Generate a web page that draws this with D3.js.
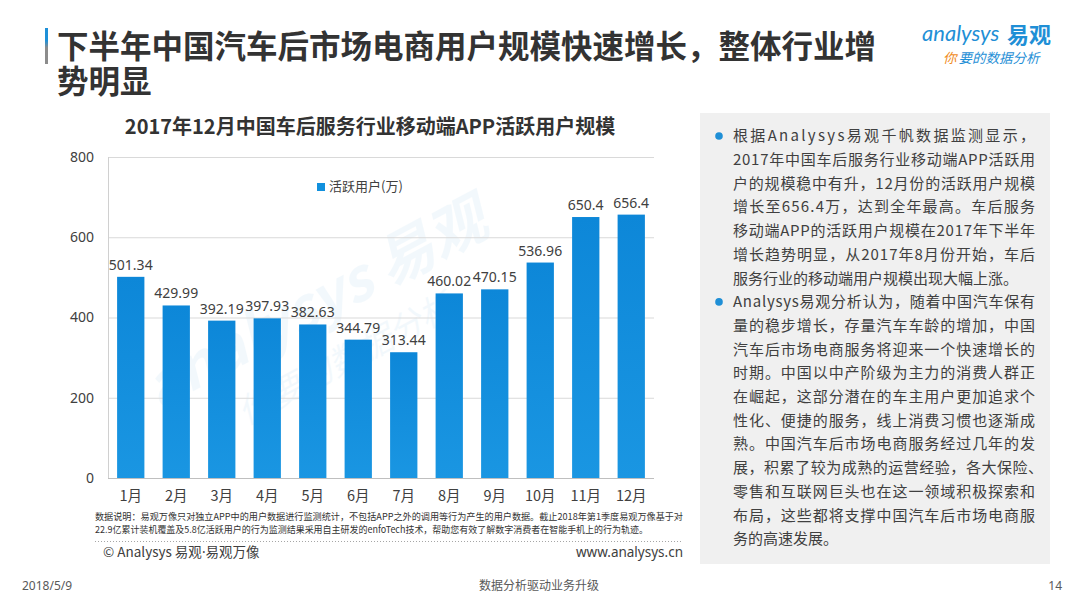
<!DOCTYPE html>
<html><head><meta charset="utf-8">
<script src="https://cdn.jsdelivr.net/npm/d3@7"></script>
<style>
html,body{margin:0;padding:0;background:#fff;}
svg{display:block;font-family:"Noto Sans","Noto Sans CJK SC",sans-serif;}
</style></head>
<body>
<svg id="c" width="1080" height="606"></svg>
<script>
const months = ["1月","2月","3月","4月","5月","6月","7月","8月","9月","10月","11月","12月"];
const activeUsers = [501.34,429.99,392.19,397.93,382.63,344.79,313.44,460.02,470.15,536.96,650.4,656.4];
const yTicks = [0,200,400,600,800];
const seriesName = "活跃用户(万)";
const titleLines = ["下半年中国汽车后市场电商用户规模快速增长，整体行业增","势明显"];
const chartTitle = "2017年12月中国车后服务行业移动端APP活跃用户规模";
const noteLines = [
 "数据说明：易观万像只对独立APP中的用户数据进行监测统计，不包括APP之外的调用等行为产生的用户数据。截止2018年第1季度易观万像基于对",
 "22.9亿累计装机覆盖及5.8亿活跃用户的行为监测结果采用自主研发的enfoTech技术，帮助您有效了解数字消费者在智能手机上的行为轨迹。"
];
const panelParas = [
 ["根据Analysys易观千帆数据监测显示，","2017年中国车后服务行业移动端APP活跃用","户的规模稳中有升，12月份的活跃用户规模","增长至656.4万，达到全年最高。车后服务","移动端APP的活跃用户规模在2017年下半年","增长趋势明显，从2017年8月份开始，车后","服务行业的移动端用户规模出现大幅上涨。"],
 ["Analysys易观分析认为，随着中国汽车保有","量的稳步增长，存量汽车车龄的增加，中国","汽车后市场电商服务将迎来一个快速增长的","时期。中国以中产阶级为主力的消费人群正","在崛起，这部分潜在的车主用户更加追求个","性化、便捷的服务，线上消费习惯也逐渐成","熟。中国汽车后市场电商服务经过几年的发","展，积累了较为成熟的运营经验，各大保险、","零售和互联网巨头也在这一领域积极探索和","布局，这些都将支撑中国汽车后市场电商服","务的高速发展。"]
];

const svg = d3.select("#c");
const CJK = '"Noto Sans CJK SC","Noto Sans",sans-serif';

// accent bar
const defs = svg.append("defs");
const ag = defs.append("linearGradient").attr("id","acc").attr("x1",0).attr("y1",0).attr("x2",0).attr("y2",1);
ag.append("stop").attr("offset","0%").attr("stop-color","#1e90d8");
ag.append("stop").attr("offset","35%").attr("stop-color","#1e90d8");
ag.append("stop").attr("offset","55%").attr("stop-color","#8c8c8c");
ag.append("stop").attr("offset","100%").attr("stop-color","#8c8c8c");
svg.append("rect").attr("x",45).attr("y",28).attr("width",3).attr("height",36).attr("fill","url(#acc)");

const tt = svg.append("text").style("font-family",CJK).style("font-weight","bold").style("font-size","31.5px").attr("fill","#333");
tt.selectAll("tspan").data(titleLines).join("tspan")
  .attr("x",57).attr("y",(d,i)=>58+i*35).text(d=>d);

// logo
const logo = svg.append("g");
logo.append("text").attr("x",922).attr("y",41).style("font-family","Lato, sans-serif").style("font-style","italic")
  .style("font-size","22px").attr("fill","#1f8fd6").text("analysys");
logo.append("text").attr("x",1007).attr("y",43).style("font-family",CJK).style("font-weight","bold")
  .style("font-size","22px").attr("fill","#1f8fd6").text("易观");
const tag = logo.append("text").attr("x",943).attr("y",63).style("font-family",CJK).style("font-style","italic").style("font-size","13.5px");
tag.append("tspan").attr("fill","#f08c1e").text("你");
tag.append("tspan").attr("fill","#1f8fd6").attr("dx",2).text("要的数据分析");

// chart title
svg.append("text").attr("x",370).attr("y",134).attr("text-anchor","middle")
  .style("font-family",CJK).style("font-weight","bold").style("font-size","20px").attr("fill","#333").text(chartTitle);

// scales
const x = d3.scaleBand().domain(months).range([108,654]).paddingInner(0.4).paddingOuter(0.2);
const y = d3.scaleLinear().domain([0,800]).range([478,157]);

// watermark
const wm = svg.append("g").attr("transform","translate(330,330) rotate(-28)").attr("opacity",0.05);
wm.append("text").attr("text-anchor","middle").attr("y",-10).style("font-family",CJK).style("font-weight","bold").style("font-style","italic")
  .style("font-size","58px").attr("fill","#1f8fd6").text("analysys 易观");
wm.append("text").attr("text-anchor","middle").attr("y",45).style("font-family",CJK).style("font-style","italic")
  .style("font-size","34px").attr("fill","#1f8fd6").text("你要的数据分析");

// gridlines
const grid = svg.append("g").attr("transform","translate(108,0)")
  .call(d3.axisLeft(y).tickValues(yTicks).tickSize(-(654-108)).tickFormat(""));
grid.select(".domain").remove();
grid.selectAll("line").attr("stroke","#d9d9d9").attr("stroke-width",1);
grid.selectAll(".tick").filter(d=>d===0).select("line").attr("stroke","#bfbfbf");

// left axis line
svg.append("line").attr("x1",108.5).attr("x2",108.5).attr("y1",y(800)).attr("y2",y(0)).attr("stroke","#d0d0d0");

// y labels
const ya = svg.append("g").attr("transform","translate(108,0)")
  .call(d3.axisLeft(y).tickValues(yTicks).tickSize(0).tickPadding(14));
ya.select(".domain").remove();
ya.selectAll("text").style("font-family","Noto Sans, sans-serif").style("font-size","14px").attr("fill","#404040");

// bars
const bg = defs.append("linearGradient").attr("id","bar").attr("x1",0).attr("y1",0).attr("x2",0).attr("y2",1);
bg.append("stop").attr("offset","0%").attr("stop-color","#0d87d8");
bg.append("stop").attr("offset","100%").attr("stop-color","#1a96e2");
svg.selectAll("rect.bar").data(activeUsers).join("rect").attr("class","bar")
  .attr("x",(d,i)=>x(months[i])).attr("width",x.bandwidth())
  .attr("y",d=>y(d)).attr("height",d=>y(0)-y(d)).attr("fill","url(#bar)");

svg.selectAll("text.val").data(activeUsers).join("text").attr("class","val")
  .attr("x",(d,i)=>x(months[i])+x.bandwidth()/2).attr("y",d=>y(d)-7).attr("text-anchor","middle")
  .style("font-family","Noto Sans, sans-serif").style("font-size","14px").attr("fill","#404040").text(d=>d);

// x axis
const xa = svg.append("g").attr("transform","translate(0,478)")
  .call(d3.axisBottom(x).tickSize(0).tickPadding(13));
xa.select(".domain").remove();
xa.selectAll("text").style("font-family",CJK).style("font-size","14.5px").attr("fill","#404040");

// legend
svg.append("rect").attr("x",317).attr("y",183).attr("width",8).attr("height",8).attr("fill","#1190dd");
svg.append("text").attr("x",329).attr("y",191).style("font-family",CJK).style("font-size","13px").attr("fill","#404040").text(seriesName);

// note
const noteW = [588,553];
svg.selectAll("text.note").data(noteLines).join("text").attr("class","note")
  .attr("x",95).attr("y",(d,i)=>520+i*13).attr("textLength",(d,i)=>noteW[i]).attr("lengthAdjust","spacingAndGlyphs")
  .style("font-family",CJK).style("font-size","9.5px").attr("fill","#333").text(d=>d);

svg.append("line").attr("x1",95).attr("x2",683).attr("y1",541.5).attr("y2",541.5)
  .attr("stroke","#a6a6a6").attr("stroke-dasharray","1,2");
const cp = svg.append("text").attr("x",103).attr("y",557).style("font-family",CJK).style("font-size","13.5px").attr("fill","#404040");
cp.append("tspan").text("© Analysys 易观");
cp.append("tspan").style("font-family","Noto Sans, sans-serif").text("·");
cp.append("tspan").text("易观万像");
svg.append("text").attr("x",683).attr("y",557).attr("text-anchor","end").style("font-family","Noto Sans, sans-serif").style("font-size","13.5px").attr("fill","#404040").text("www.analysys.cn");

// right panel
svg.append("rect").attr("x",700).attr("y",113).attr("width",350).attr("height",451).attr("fill","#f0f0f0");
let li = 0;
panelParas.forEach(para=>{
  para.forEach((line,j)=>{
    const cy = 136 + li*23.7;
    if(j===0) svg.append("circle").attr("cx",719).attr("cy",cy).attr("r",3.8).attr("fill","#1f8fd6");
    const t = svg.append("text").attr("x",733).attr("y",cy+5.3)
      .style("font-family",CJK).style("font-size","15px").attr("fill","#404040").text(line);
    if(j<para.length-1){
      t.attr("textLength", line.endsWith("、") ? 310 : 302).attr("lengthAdjust","spacing");
    }
    li++;
  });
});

// footer
svg.append("text").attr("x",22).attr("y",590).style("font-family","Noto Sans, sans-serif").style("font-size","12px").attr("fill","#595959").text("2018/5/9");
svg.append("text").attr("x",539).attr("y",590).attr("text-anchor","middle").style("font-family",CJK).style("font-size","12px").attr("fill","#595959").text("数据分析驱动业务升级");
svg.append("text").attr("x",1062).attr("y",590).attr("text-anchor","end").style("font-family","Noto Sans, sans-serif").style("font-size","12px").attr("fill","#595959").text("14");
</script>
</body></html>
